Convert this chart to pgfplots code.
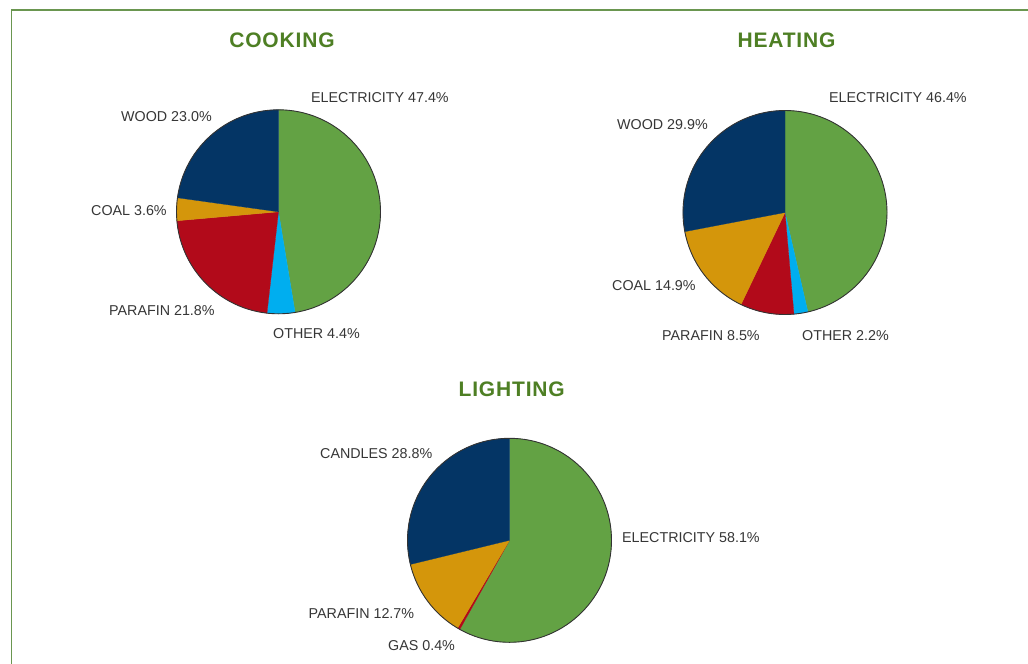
\documentclass[border=0pt]{standalone}
\usepackage{pgfplots}
\pgfplotsset{compat=1.18}
\usepackage{fontspec}
\setmainfont{Liberation Sans}
\newfontfamily\titlefont[LetterSpace=4]{Liberation Sans}
\definecolor{cGreen}{HTML}{63A244}
\definecolor{cCyan}{HTML}{00AEEF}
\definecolor{cRed}{HTML}{B20A1A}
\definecolor{cGold}{HTML}{D4960B}
\definecolor{cNavy}{HTML}{043565}
\definecolor{cTitle}{HTML}{4E7F24}
\definecolor{cFrame}{HTML}{6A9650}
\definecolor{cText}{HTML}{363636}
\newcommand{\lbl}{\fontsize{14.3bp}{16bp}\selectfont}
\newcommand{\ttl}{\titlefont\bfseries\fontsize{21bp}{24bp}\selectfont}
\pgfplotsset{
  pie/.style={width=204bp,height=204bp,scale only axis,xmin=-1,xmax=1,ymin=-1,ymax=1,hide axis,clip=false,anchor=center},
  wedge/.style={data cs=polar, fill=#1, draw=#1, line width=0.3bp, mark=none}
}
\begin{document}
\begin{tikzpicture}
\useasboundingbox (0,0) rectangle (1028bp,-664bp);
\fill[white] (0,0) rectangle (1028bp,-664bp);
\draw[color=cFrame, line width=1.8bp] (11.5bp,-664bp) -- (11.5bp,-10bp) -- (1028bp,-10bp);

% ---------------- COOKING ----------------
\begin{axis}[pie, at={(278.5bp,-211.8bp)}]
% Electricity 47.4%
\addplot[wedge=cGreen] coordinates {(0,0) (90,1) (85,1) (80,1) (75,1) (70,1) (65,1) (60,1) (55,1) (50,1) (45,1) (40,1) (35,1) (30,1) (25,1) (20,1) (15,1) (10,1) (5,1) (0,1) (-5,1) (-10,1) (-15,1) (-20,1) (-25,1) (-30,1) (-35,1) (-40,1) (-45,1) (-50,1) (-55,1) (-60,1) (-65,1) (-70,1) (-75,1) (-80,1) (-80.64,1) (0,0)};
% Other 4.4%
\addplot[wedge=cCyan] coordinates {(0,0) (-80.64,1) (-85,1) (-90,1) (-95,1) (-96.48,1) (0,0)};
% Parafin 21.8%
\addplot[wedge=cRed] coordinates {(0,0) (-96.48,1) (-100,1) (-105,1) (-110,1) (-115,1) (-120,1) (-125,1) (-130,1) (-135,1) (-140,1) (-145,1) (-150,1) (-155,1) (-160,1) (-165,1) (-170,1) (-174.96,1) (0,0)};
% Coal 3.6%
\addplot[wedge=cGold] coordinates {(0,0) (-174.96,1) (-180,1) (-185,1) (-187.92,1) (0,0)};
% Wood 23.0%
\addplot[wedge=cNavy] coordinates {(0,0) (-187.92,1) (-190,1) (-195,1) (-200,1) (-205,1) (-210,1) (-215,1) (-220,1) (-225,1) (-230,1) (-235,1) (-240,1) (-245,1) (-250,1) (-255,1) (-260,1) (-265,1) (-270,1) (0,0)};
\draw[color=black!80, line width=0.9bp] (axis cs:0,0) circle[radius=102bp];
\end{axis}

% ---------------- HEATING ----------------
\begin{axis}[pie, at={(785bp,-212.5bp)}]
% Electricity 46.4%
\addplot[wedge=cGreen] coordinates {(0,0) (90,1) (85,1) (80,1) (75,1) (70,1) (65,1) (60,1) (55,1) (50,1) (45,1) (40,1) (35,1) (30,1) (25,1) (20,1) (15,1) (10,1) (5,1) (0,1) (-5,1) (-10,1) (-15,1) (-20,1) (-25,1) (-30,1) (-35,1) (-40,1) (-45,1) (-50,1) (-55,1) (-60,1) (-65,1) (-70,1) (-75,1) (-77.04,1) (0,0)};
% Other 2.2%
\addplot[wedge=cCyan] coordinates {(0,0) (-77.04,1) (-80,1) (-84.96,1) (0,0)};
% Parafin 8.5%
\addplot[wedge=cRed] coordinates {(0,0) (-84.96,1) (-90,1) (-95,1) (-100,1) (-105,1) (-110,1) (-115.56,1) (0,0)};
% Coal 14.9%
\addplot[wedge=cGold] coordinates {(0,0) (-115.56,1) (-120,1) (-125,1) (-130,1) (-135,1) (-140,1) (-145,1) (-150,1) (-155,1) (-160,1) (-165,1) (-169.2,1) (0,0)};
% Wood 29.9%
\addplot[wedge=cNavy] coordinates {(0,0) (-169.2,1) (-175,1) (-180,1) (-185,1) (-190,1) (-195,1) (-200,1) (-205,1) (-210,1) (-215,1) (-220,1) (-225,1) (-230,1) (-235,1) (-240,1) (-245,1) (-250,1) (-255,1) (-260,1) (-265,1) (-270,1) (0,0)};
\draw[color=black!80, line width=0.9bp] (axis cs:0,0) circle[radius=102bp];
\end{axis}

% ---------------- LIGHTING ----------------
\begin{axis}[pie, at={(509.5bp,-540.3bp)}]
% Electricity 58.1%
\addplot[wedge=cGreen] coordinates {(0,0) (90,1) (85,1) (80,1) (75,1) (70,1) (65,1) (60,1) (55,1) (50,1) (45,1) (40,1) (35,1) (30,1) (25,1) (20,1) (15,1) (10,1) (5,1) (0,1) (-5,1) (-10,1) (-15,1) (-20,1) (-25,1) (-30,1) (-35,1) (-40,1) (-45,1) (-50,1) (-55,1) (-60,1) (-65,1) (-70,1) (-75,1) (-80,1) (-85,1) (-90,1) (-95,1) (-100,1) (-105,1) (-110,1) (-115,1) (-119.16,1) (0,0)};
% Gas 0.4%
\addplot[wedge=cRed] coordinates {(0,0) (-119.16,1) (-120.6,1) (0,0)};
% Parafin 12.7%
\addplot[wedge=cGold] coordinates {(0,0) (-120.6,1) (-125,1) (-130,1) (-135,1) (-140,1) (-145,1) (-150,1) (-155,1) (-160,1) (-165,1) (-166.32,1) (0,0)};
% Candles 28.8%
\addplot[wedge=cNavy] coordinates {(0,0) (-166.32,1) (-170,1) (-175,1) (-180,1) (-185,1) (-190,1) (-195,1) (-200,1) (-205,1) (-210,1) (-215,1) (-220,1) (-225,1) (-230,1) (-235,1) (-240,1) (-245,1) (-250,1) (-255,1) (-260,1) (-265,1) (-270,1) (0,0)};
\draw[color=black!80, line width=0.9bp] (axis cs:0,0) circle[radius=102bp];
\end{axis}

% ---------------- Titles ----------------
\node[anchor=base, inner sep=0, text=cTitle, font=\ttl] at (282bp,-47.3bp) {COOKING};
\node[anchor=base, inner sep=0, text=cTitle, font=\ttl] at (786.5bp,-47.3bp) {HEATING};
\node[anchor=base, inner sep=0, text=cTitle, font=\ttl] at (511.7bp,-396bp) {LIGHTING};

% ---------------- Labels ----------------
\begin{scope}[every node/.style={anchor=base west, inner sep=0, text=cText, font=\lbl}]
\node at (311bp,-102bp) {ELECTRICITY 47.4\%};
\node at (121bp,-121.5bp) {WOOD 23.0\%};
\node at (91bp,-215.5bp) {COAL 3.6\%};
\node at (109bp,-315bp) {PARAFIN 21.8\%};
\node at (273bp,-338.5bp) {OTHER 4.4\%};
\node at (829bp,-102.5bp) {ELECTRICITY 46.4\%};
\node at (617bp,-129bp) {WOOD 29.9\%};
\node at (612bp,-290.5bp) {COAL 14.9\%};
\node at (662bp,-340bp) {PARAFIN 8.5\%};
\node at (802bp,-340bp) {OTHER 2.2\%};
\node at (320bp,-458bp) {CANDLES 28.8\%};
\node at (622bp,-542.5bp) {ELECTRICITY 58.1\%};
\node at (308.5bp,-618bp) {PARAFIN 12.7\%};
\node at (388bp,-650.5bp) {GAS 0.4\%};
\end{scope}
\end{tikzpicture}
\end{document}
